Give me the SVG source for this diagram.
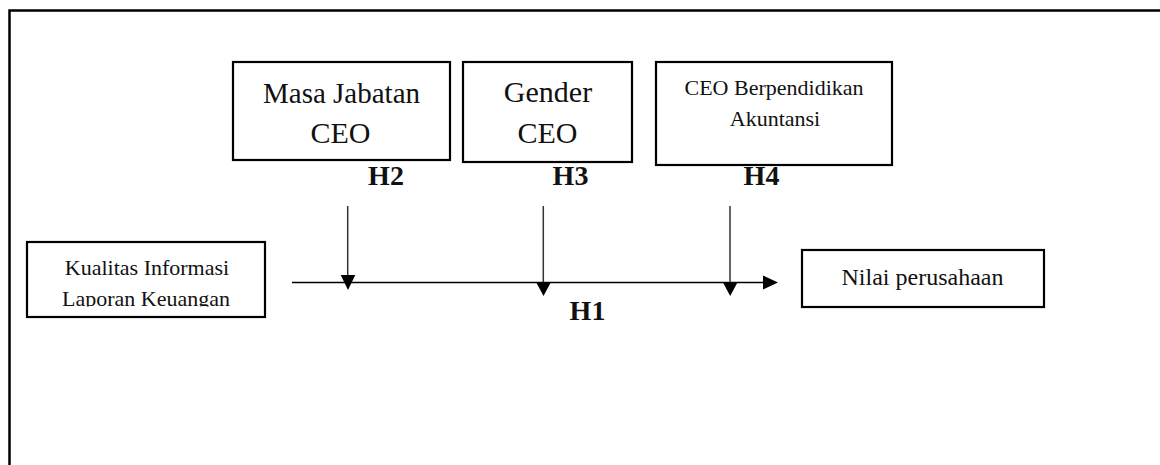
<svg xmlns="http://www.w3.org/2000/svg" width="1160" height="465" viewBox="0 0 1160 465">
  <style>
    .box { fill: #ffffff; stroke: #000000; stroke-width: 2.2; }
    .t { font-family: "Liberation Serif", "Times New Roman", serif; fill: #111111; text-anchor: middle; }
    .h { font-family: "Liberation Serif", "Times New Roman", serif; font-weight: bold; fill: #111111; text-anchor: middle; font-size: 28px; }
    .v { stroke: #333333; stroke-width: 1.5; fill: none; }
    .hl { stroke: #000000; stroke-width: 1.5; fill: none; }
    .ah { fill: #000000; }
  </style>
  <defs>
    <clipPath id="clipK">
      <rect x="27" y="242" width="238" height="64.5"/>
    </clipPath>
  </defs>
  <rect width="1160" height="465" fill="#ffffff"/>
  <path d="M9.5,465 V10.5 H1160" fill="none" stroke="#000000" stroke-width="2.5"/>

  <g id="masa">
    <rect class="box" x="233" y="62" width="217" height="98"/>
    <text class="t" x="341.5" y="103" font-size="29">Masa Jabatan</text>
    <text class="t" x="340.5" y="143" font-size="30">CEO</text>
  </g>
  <g id="gender">
    <rect class="box" x="463" y="62" width="169" height="100"/>
    <text class="t" x="548" y="102" font-size="30">Gender</text>
    <text class="t" x="547.5" y="143" font-size="30">CEO</text>
  </g>
  <g id="ceo-akuntansi">
    <rect class="box" x="656" y="62" width="236" height="103"/>
    <text class="t" x="774" y="95" font-size="22">CEO Berpendidikan</text>
    <text class="t" x="775" y="126" font-size="22">Akuntansi</text>
  </g>
  <g id="kualitas">
    <rect class="box" x="27" y="242" width="238" height="75"/>
    <text class="t" x="147" y="275" font-size="22">Kualitas Informasi</text>
    <g clip-path="url(#clipK)">
      <text class="t" x="146" y="306" font-size="22">Laporan Keuangan</text>
    </g>
  </g>
  <g id="nilai">
    <rect class="box" x="802" y="250" width="242" height="57"/>
    <text class="t" x="922.5" y="285" font-size="24">Nilai perusahaan</text>
  </g>

  <g id="connectors">
    <line class="hl" x1="292" y1="282.5" x2="765" y2="282.5"/>
    <polygon class="ah" points="763,275.5 778,282.5 763,289.5"/>
    <line class="v" x1="347.7" y1="206" x2="347.7" y2="277"/>
    <polygon class="ah" points="340.7,275 355.3,275 348,290"/>
    <line class="v" x1="543.3" y1="206" x2="543.3" y2="283"/>
    <polygon class="ah" points="536,282 551,282 543.5,296"/>
    <line class="v" x1="730" y1="206" x2="730" y2="283"/>
    <polygon class="ah" points="722.7,282 737.7,282 730.2,296"/>
  </g>

  <g id="labels">
    <text class="h" x="386" y="185">H2</text>
    <text class="h" x="570.5" y="185">H3</text>
    <text class="h" x="761.5" y="185">H4</text>
    <text class="h" x="587.5" y="320">H1</text>
  </g>
</svg>
